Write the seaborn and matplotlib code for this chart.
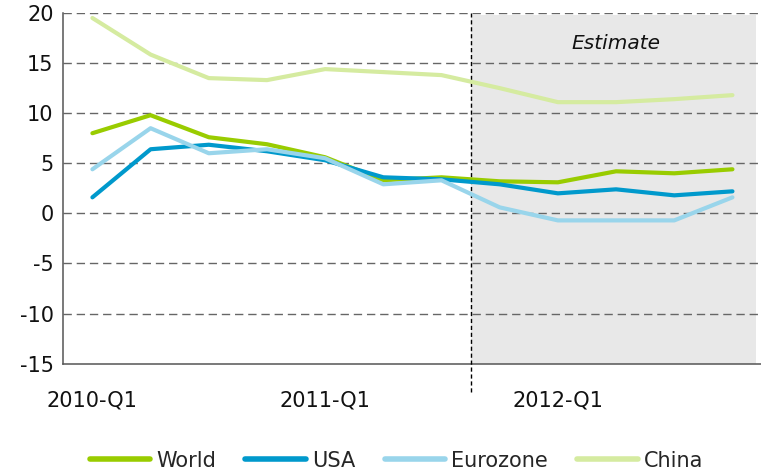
import seaborn as sns
import matplotlib.pyplot as plt
import pandas as pd

# Quarterly growth data, 2010-Q1 .. 2012-Q4
quarters = ["2010-Q1", "2010-Q2", "2010-Q3", "2010-Q4",
            "2011-Q1", "2011-Q2", "2011-Q3", "2011-Q4",
            "2012-Q1", "2012-Q2", "2012-Q3", "2012-Q4"]
world = [8.0, 9.8, 7.6, 6.9, 5.6, 3.3, 3.6, 3.2, 3.1, 4.2, 4.0, 4.4]
usa = [1.6, 6.4, 6.85, 6.2, 5.3, 3.6, 3.4, 2.9, 2.0, 2.4, 1.8, 2.2]
eurozone = [4.4, 8.5, 6.0, 6.4, 5.5, 2.9, 3.3, 0.6, -0.7, -0.7, -0.7, 1.6]
china = [19.5, 15.85, 13.5, 13.3, 14.4, 14.1, 13.8, 12.5, 11.1, 11.1, 11.4, 11.8]
label_quarters = ["2010-Q1", "2011-Q1", "2012-Q1"]
estimate_from = "2011-Q4"

COLORS = {
    "World": "#99CC00",
    "USA": "#0099CC",
    "Eurozone": "#99D5EB",
    "China": "#D5EBA0",
}
GRID = "#666666"
AXIS = "#555555"

sns.set_style("white")
plt.rcParams['font.family'] = ['DejaVu Sans']
plt.rcParams['axes.unicode_minus'] = False

df = pd.DataFrame({"Quarter": quarters, "World": world, "USA": usa,
                   "Eurozone": eurozone, "China": china})
df["x"] = range(len(quarters))
long = df.melt(id_vars=["Quarter", "x"], var_name="Region", value_name="Growth")

fig = plt.figure(figsize=(7.61, 4.72), dpi=100)
ax = fig.add_axes([0.0832, 0.2295, 0.9175, 0.743])

est_x = quarters.index(estimate_from) - 0.5
n = len(quarters)

# estimate shading + divider
ax.axvspan(est_x, n - 0.6, ymin=0, ymax=0.995, color="#E8E8E8", zorder=0, lw=0)
ax.axvline(est_x, ymin=-0.081, ymax=1, color="black", lw=1.0,
           linestyle=(0, (3, 2)), clip_on=False, zorder=3)

# grid lines
for yv in range(-10, 25, 5):
    ax.axhline(yv, color=GRID, lw=1.0, linestyle=(0, (6, 3.5)), zorder=1)

sns.lineplot(data=long, x="x", y="Growth", hue="Region", palette=COLORS,
             hue_order=["World", "USA", "Eurozone", "China"],
             linewidth=3, ax=ax, legend=False, zorder=4)

ax.set_xlim(-0.5, n - 0.5)
ax.set_ylim(-15, 20)
ax.set_yticks(range(-15, 25, 5))
ax.set_xticks([quarters.index(q) for q in label_quarters])
ax.set_xticklabels(label_quarters)
ax.set_xticks([i - 0.5 for i in range(n + 1)], minor=True)
ax.tick_params(axis="x", which="major", length=0, pad=19, labelsize=15, colors="#111111")
ax.tick_params(axis="x", which="minor", length=6, width=1, color=AXIS, direction="out")
ax.tick_params(axis="y", length=5, width=1, labelsize=15, pad=2, colors="#111111")
ax.tick_params(axis="y", color=GRID)
ax.set_xlabel("")
ax.set_ylabel("")

for s in ["top", "right"]:
    ax.spines[s].set_visible(False)
for s in ["left", "bottom"]:
    ax.spines[s].set_color(AXIS)
    ax.spines[s].set_linewidth(1.1)

ax.text(9.0, 17.0, "Estimate", style="italic", fontsize=14.5, ha="center", va="center",
        color="#111111")

handles = [plt.Line2D([], [], color=COLORS[k], lw=4, solid_capstyle="round")
           for k in ["World", "USA", "Eurozone", "China"]]
fig.legend(handles, ["World", "USA", "Eurozone", "China"], loc="center",
           bbox_to_anchor=(0.521, 0.024), ncol=4, frameon=False, fontsize=15,
           handlelength=2.9, handletextpad=0.3, columnspacing=1.4)

fig.savefig("out.png", dpi=100)
plt.close(fig)
